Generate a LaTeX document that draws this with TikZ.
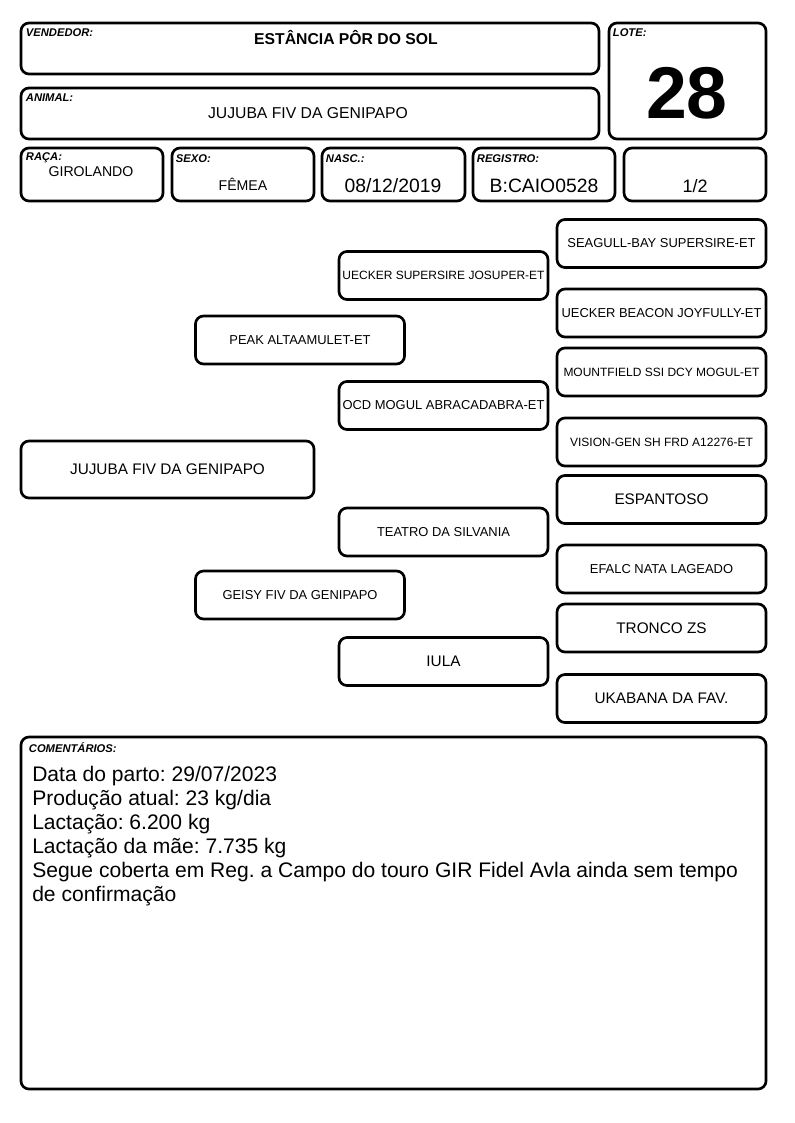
\documentclass[tikz,border=0pt]{standalone}
\usepackage{fontspec}
\setmainfont{Liberation Sans}
\frenchspacing
\tikzset{
  box/.style={draw, line width=2pt, rounded corners=6pt, inner sep=0pt},
  lbl/.style={font=\bfseries\itshape\fontsize{8.4}{9}\selectfont, inner sep=0pt, anchor=north west},
  val/.style={inner sep=0pt},
  pedbox/.style={box, minimum width=209*0.75pt, minimum height=48*0.75pt},
  pedsmall/.style={pedbox, font=\fontsize{9}{10}\selectfont},
  pedmid/.style={pedbox, font=\fontsize{9.7}{11}\selectfont},
  pedbig/.style={pedbox, font=\fontsize{11.5}{13}\selectfont},
}
\begin{document}
\begin{tikzpicture}[x=0.75pt, y=-0.75pt]
\useasboundingbox (0,0) rectangle (794,1123);
% header
\node[box, minimum width=578*0.75pt, minimum height=51*0.75pt] (vendedor) at (310,48.5) {};
\node[box, minimum width=578*0.75pt, minimum height=51*0.75pt] (animal) at (310,113.5) {};
\node[box, minimum width=157*0.75pt, minimum height=116*0.75pt] (lote) at (687.5,81) {};
\node[box, minimum width=142*0.75pt, minimum height=53*0.75pt] (raca) at (92,174.5) {};
\node[box, minimum width=142*0.75pt, minimum height=53*0.75pt] (sexo) at (243,174.5) {};
\node[box, minimum width=143*0.75pt, minimum height=53*0.75pt] (nasc) at (393.5,174.5) {};
\node[box, minimum width=142*0.75pt, minimum height=53*0.75pt] (registro) at (544,174.5) {};
\node[box, minimum width=142*0.75pt, minimum height=53*0.75pt] (fracao) at (695,174.5) {};

\node[lbl] (vendedorlbl) at ([shift={(6,7)}]vendedor.north west) {VENDEDOR:};
\node[lbl] (animallbl) at ([shift={(6,7)}]animal.north west) {ANIMAL:};
\node[lbl] (lotelbl) at ([shift={(5,7)}]lote.north west) {LOTE:};
\node[lbl] (racalbl) at ([shift={(6,6)}]raca.north west) {RAÇA:};
\node[lbl] (sexolbl) at ([shift={(5,8)}]sexo.north west) {SEXO:};
\node[lbl] (nasclbl) at ([shift={(5,8)}]nasc.north west) {NASC.:};
\node[lbl] (registrolbl) at ([shift={(5,8)}]registro.north west) {REGISTRO:};

\node[val, font=\bfseries\fontsize{11.8}{13}\selectfont] (vendedorval) at (346,38) {ESTÂNCIA PÔR DO SOL};
\node[val, font=\fontsize{11.8}{13}\selectfont] (animalval) at (308,113) {JUJUBA FIV DA GENIPAPO};
\node[val, font=\bfseries\fontsize{55}{60}\selectfont] (loteval) at (687,93) {28};
\node[val, font=\fontsize{10.6}{12}\selectfont] (racaval) at (91,172) {GIROLANDO};
\node[val, font=\fontsize{10.6}{12}\selectfont] (sexoval) at (243,184) {FÊMEA};
\node[val, font=\fontsize{14.5}{16}\selectfont] (nascval) at (393,186) {08/12/2019};
\node[val, font=\fontsize{14.5}{16}\selectfont] (registroval) at (544,186) {B:CAIO0528};
\node[val, font=\fontsize{13.5}{15}\selectfont] (fracaoval) at (695,186) {1/2};

% pedigree
\node[pedbig, minimum width=293*0.75pt, minimum height=57*0.75pt] (jujuba) at (167.5,469.5) {JUJUBA FIV DA GENIPAPO};
\node[pedmid] (peak) at (300,340) {PEAK ALTAAMULET-ET};
\node[pedmid] (geisy) at (300,595) {GEISY FIV DA GENIPAPO};
\node[pedsmall] (josuper) at (443.5,275.5) {UECKER SUPERSIRE JOSUPER-ET};
\node[pedmid] (abracadabra) at (443.5,405.5) {OCD MOGUL ABRACADABRA-ET};
\node[pedmid] (teatro) at (443.5,532) {TEATRO DA SILVANIA};
\node[pedbig] (iula) at (443.5,661.5) {IULA};
\node[pedmid] (seagull) at (661.5,243.5) {SEAGULL-BAY SUPERSIRE-ET};
\node[pedmid] (joyfully) at (661.5,313) {UECKER BEACON JOYFULLY-ET};
\node[pedsmall] (mountfield) at (661.5,372) {MOUNTFIELD SSI DCY MOGUL-ET};
\node[pedsmall] (visiongen) at (661.5,442) {VISION-GEN SH FRD A12276-ET};
\node[pedbig] (espantoso) at (661.5,499.5) {ESPANTOSO};
\node[pedmid] (efalc) at (661.5,569) {EFALC NATA LAGEADO};
\node[pedbig] (tronco) at (661.5,628) {TRONCO ZS};
\node[pedbig] (ukabana) at (661.5,698.5) {UKABANA DA FAV.};

% comentarios
\node[box, minimum width=745*0.75pt, minimum height=352*0.75pt] (comentarios) at (393.5,913) {};
\node[lbl] (comentarioslbl) at ([shift={(9,7)}]comentarios.north west) {COMENTÁRIOS:};
\node[val, anchor=north west, align=left, font=\fontsize{15.8}{18}\selectfont] (comentariostxt) at (32,766)
  {Data do parto: 29/07/2023\\
   Produção atual: 23 kg/dia\\
   Lactação: 6.200 kg\\
   Lactação da mãe: 7.735 kg\\
   Segue coberta em Reg. a Campo do touro GIR Fidel Avla ainda sem tempo\\
   de confirmação};
\end{tikzpicture}
\end{document}
